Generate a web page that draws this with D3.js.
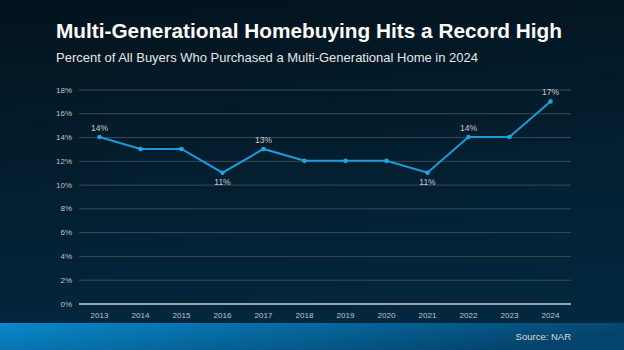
<!DOCTYPE html>
<html>
<head>
<meta charset="utf-8">
<script src="https://cdn.jsdelivr.net/npm/d3@7"></script>
<style>
  body { margin: 0; background: #021a2a; }
  svg { display: block; font-family: "Liberation Sans", Arial, sans-serif; }
</style>
</head>
<body>
<svg width="624" height="350"></svg>
<script>
// data
const years = ["2013", "2014", "2015", "2016", "2017", "2018", "2019", "2020", "2021", "2022", "2023", "2024"];
const share = [14, 13, 13, 11, 13, 12, 12, 12, 11, 14, 14, 17];
// which points get a label, and where
const labelPos = ["above", null, null, "below", "above", null, null, null, "below", "above", null, "above"];
const yTicks = [0, 2, 4, 6, 8, 10, 12, 14, 16, 18];

const W = 624, H = 350;
const margin = {top: 89.5, right: 53, bottom: 46.5, left: 79},
  width = W - margin.left - margin.right,
  height = H - margin.top - margin.bottom;

const svg = d3.select("svg");
const defs = svg.append("defs");

const bg = defs.append("linearGradient").attr("id", "bg")
  .attr("x1", 0).attr("y1", 0).attr("x2", 0.15).attr("y2", 1);
bg.append("stop").attr("offset", "0%").attr("stop-color", "#03131d");
bg.append("stop").attr("offset", "100%").attr("stop-color", "#02283f");

const band = defs.append("linearGradient").attr("id", "band")
  .attr("x1", 0).attr("y1", 0).attr("x2", 1).attr("y2", 0.3);
band.append("stop").attr("offset", "0%").attr("stop-color", "#0a88cc");
band.append("stop").attr("offset", "100%").attr("stop-color", "#04446c");

svg.append("rect").attr("width", W).attr("height", H).attr("fill", "url(#bg)");
svg.append("rect").attr("y", 323).attr("width", W).attr("height", H - 323).attr("fill", "url(#band)");

// titles
svg.append("text")
  .attr("x", 56).attr("y", 38)
  .attr("fill", "#ffffff")
  .attr("font-weight", "bold")
  .attr("font-size", "20.5px")
  .attr("textLength", 506)
  .attr("lengthAdjust", "spacingAndGlyphs")
  .text("Multi-Generational Homebuying Hits a Record High");

svg.append("text")
  .attr("x", 56).attr("y", 62)
  .attr("fill", "#e6e6e6")
  .attr("font-size", "13px")
  .attr("textLength", 422)
  .attr("lengthAdjust", "spacingAndGlyphs")
  .text("Percent of All Buyers Who Purchased a Multi-Generational Home in 2024");

svg.append("text")
  .attr("x", 571).attr("y", 339.5)
  .attr("text-anchor", "end")
  .attr("fill", "#d9d9d9")
  .attr("font-size", "9.5px")
  .text("Source: NAR");

const g = svg.append("g")
  .attr("transform", `translate(${margin.left}, ${margin.top})`);

const x = d3.scaleBand()
  .domain(years)
  .range([0, width]);

const y = d3.scaleLinear()
  .domain([0, 18])
  .range([height, 0]);

// gridlines + y labels
const yAxis = g.append("g")
  .call(d3.axisLeft(y).tickValues(yTicks).tickSize(-width).tickPadding(7).tickFormat(d => d + "%"));
yAxis.select(".domain").remove();
yAxis.selectAll(".tick line")
  .attr("stroke", d => d === 0 ? "#9aa4aa" : "#3c4b55")
  .attr("stroke-width", d => d === 0 ? 2 : 1);
yAxis.selectAll(".tick text")
  .attr("fill", "#c0c4c7")
  .attr("font-size", "8px")
  .attr("font-family", "Liberation Sans, Arial, sans-serif");

// x labels
const xAxis = g.append("g")
  .attr("transform", `translate(0, ${height})`)
  .call(d3.axisBottom(x).tickSize(0).tickPadding(9));
xAxis.select(".domain").remove();
xAxis.selectAll(".tick text")
  .attr("fill", "#c0c4c7")
  .attr("font-size", "8px")
  .attr("font-family", "Liberation Sans, Arial, sans-serif");

const pts = share.map((v, i) => ({year: years[i], v: v, pos: labelPos[i]}));
const cx = d => x(d.year) + x.bandwidth() / 2;

// line
const line = d3.line()
  .x(cx)
  .y(d => y(d.v));

g.append("path")
  .datum(pts)
  .attr("fill", "none")
  .attr("stroke", "#1b9ad8")
  .attr("stroke-width", 2)
  .attr("d", line);

g.selectAll("circle.pt")
  .data(pts)
  .join("circle")
  .attr("class", "pt")
  .attr("cx", cx)
  .attr("cy", d => y(d.v))
  .attr("r", 2.3)
  .attr("fill", "#1fa4e2");

// value labels
g.selectAll("text.val")
  .data(pts.filter(d => d.pos))
  .join("text")
  .attr("class", "val")
  .attr("x", cx)
  .attr("y", d => d.pos === "above" ? y(d.v) - 6 : y(d.v) + 12.5)
  .attr("text-anchor", "middle")
  .attr("fill", "#c8cbcd")
  .attr("font-size", "8.5px")
  .text(d => d.v + "%");
</script>
</body>
</html>
